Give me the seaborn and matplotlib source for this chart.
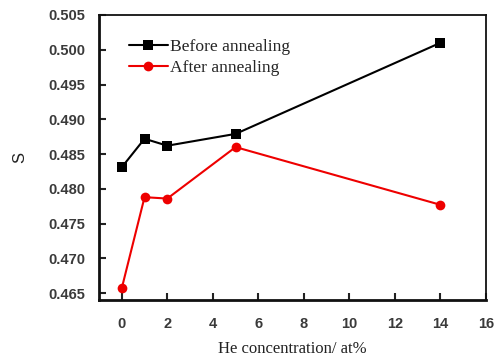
import matplotlib
matplotlib.use("Agg")
import matplotlib.pyplot as plt
import seaborn as sns
import pandas as pd

he_conc = [0, 1, 2, 5, 14]
s_before = [0.4831, 0.4872, 0.4862, 0.4879, 0.5010]
s_after = [0.4657, 0.4788, 0.4786, 0.4860, 0.4777]
series_names = ["Before annealing", "After annealing"]
x_ticks = [0, 2, 4, 6, 8, 10, 12, 14, 16]
y_ticks = [0.465, 0.470, 0.475, 0.480, 0.485, 0.490, 0.495, 0.500, 0.505]

df = pd.DataFrame({
    "x": he_conc * 2,
    "S": s_before + s_after,
    "series": [series_names[0]] * len(he_conc) + [series_names[1]] * len(he_conc),
})

sns.set_style("white")
fig = plt.figure(figsize=(5.0, 3.56), dpi=100)
ax = fig.add_axes([0.198, 0.157, 0.774, 0.801])

sns.lineplot(data=df, x="x", y="S", hue="series", style="series",
             palette={series_names[0]: "black", series_names[1]: "#ee0000"},
             markers={series_names[0]: "s", series_names[1]: "o"},
             dashes=False, markersize=7, markeredgewidth=0, linewidth=1.5, ax=ax)

ax.set_xlim(-1, 16)
ax.set_ylim(0.464, 0.505)
ax.set_xticks(x_ticks)
ax.set_yticks(y_ticks)
ax.set_yticklabels([f"{v:.3f}" for v in y_ticks])
ax.tick_params(axis="both", direction="in", length=5, width=1.5, color="#222222",
               labelsize=10.5, labelcolor="#3a3a3a")
ax.tick_params(axis="y", pad=10)
ax.tick_params(axis="x", pad=12)
ax.tick_params(top=False, right=False, left=True, bottom=True)
for lab in ax.get_xticklabels() + ax.get_yticklabels():
    lab.set_family("Liberation Sans")
    lab.set_fontweight("bold")

for side in ["left", "bottom"]:
    ax.spines[side].set_linewidth(2.0)
    ax.spines[side].set_color("#111111")
for side in ["top", "right"]:
    ax.spines[side].set_linewidth(1.3)
    ax.spines[side].set_color("#111111")

ax.set_xlabel("He concentration/ at%", family="Liberation Serif", fontsize=12, color="#222222")
ax.set_ylabel("S", family="Liberation Sans", fontsize=12, color="#222222")
ax.xaxis.set_label_coords(0.5, -0.145)
ax.yaxis.set_label_coords(-0.185, 0.5)

leg = ax.legend(loc="upper left", bbox_to_anchor=(0.06, 0.94), frameon=False,
                prop={"family": "Liberation Serif", "size": 12.6},
                handlelength=2.2, handletextpad=0.15, labelspacing=0.25, borderaxespad=0)

fig.savefig("out.png", dpi=100)
